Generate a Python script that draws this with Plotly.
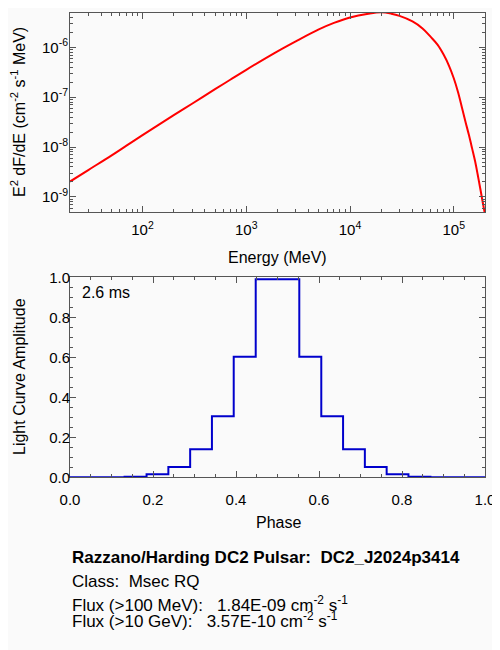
"""DC2 pulsar summary: spectrum (E^2 dF/dE) and light curve."""

import plotly.graph_objects as go

# Spectrum (MeV, cm^-2 s^-1 MeV)
energy = [20, 30, 50, 70, 100, 200, 300, 500, 700, 1000, 2000, 3000, 5000,
          7000, 1.0e4, 1.5e4, 2.0e4, 2.5e4, 3.0e4, 4.0e4, 5.0e4, 6.0e4, 7.0e4,
          8.0e4, 9.0e4, 1.0e5, 1.1e5, 1.2e5, 1.3e5, 1.4e5, 1.5e5, 1.6e5,
          1.7e5, 1.8e5, 1.9e5, 2.0e5]
e2dfde = [2.04e-9, 3.47e-9, 6.76e-9, 1.07e-8, 1.74e-8, 4.37e-8, 7.41e-8,
          1.45e-7, 2.24e-7, 3.55e-7, 8.32e-7, 1.32e-6, 2.29e-6, 3.09e-6,
          3.98e-6, 4.73e-6, 5.05e-6, 4.73e-6, 4.27e-6, 3.31e-6, 2.40e-6,
          1.62e-6, 1.12e-6, 7.08e-7, 4.27e-7, 2.40e-7, 1.26e-7, 6.17e-8,
          3.16e-8, 1.74e-8, 9.55e-9, 5.37e-9, 2.82e-9, 1.48e-9, 7.94e-10,
          4.47e-10]

# Light curve (histogram style, 20 phase points)
phase = [0.000, 0.053, 0.105, 0.158, 0.211, 0.263, 0.316, 0.368, 0.421, 0.474,
         0.526, 0.579, 0.632, 0.684, 0.737, 0.789, 0.842, 0.895, 0.947, 1.000]
amplitude = [0.0, 0.0, 0.0, 0.003, 0.015, 0.052, 0.14, 0.305, 0.603, 0.99,
             0.99, 0.603, 0.305, 0.14, 0.052, 0.015, 0.003, 0.0, 0.0, 0.0]

spec_xticks = [1e2, 1e3, 1e4, 1e5]
spec_xlabels = ["10<sup>2</sup>", "10<sup>3</sup>", "10<sup>4</sup>", "10<sup>5</sup>"]
spec_yticks = [1e-9, 1e-8, 1e-7, 1e-6]
spec_ylabels = ["10<sup>-9</sup>", "10<sup>-8</sup>", "10<sup>-7</sup>", "10<sup>-6</sup>"]

pulsar_name = "DC2_J2024p3414"
pulsar_class = "Msec RQ"
period_label = "2.6 ms"
flux_100mev = "1.84E-09"
flux_10gev = "3.57E-10"

FONT = "Liberation Sans, Arial, Helvetica, sans-serif"
AXIS_COLOR = "#555555"
BG = "#fafafa"
NB = "\u00a0"  # keeps the wide gaps of the original text

# the page body adds an 8px margin, so the figure is laid out in page pixels
W, H, PAD = 492, 642, 8


def px(x):
    return (x - PAD) / W


def py(y):
    return 1 - (y - PAD) / H


minor_x = [m * 10 ** k for k in range(1, 6) for m in range(2, 10)]
minor_y = [m * 10 ** k for k in range(-10, -5) for m in range(2, 10)]

fig = go.Figure()

fig.add_trace(go.Scatter(
    x=energy, y=e2dfde, mode="lines", line_shape="spline",
    line=dict(color="#ff0000", width=2),
    xaxis="x", yaxis="y", showlegend=False,
))

fig.add_trace(go.Scatter(
    x=phase, y=amplitude, mode="lines", line_shape="hvh",
    line=dict(color="#0000cc", width=2),
    xaxis="x2", yaxis="y2", showlegend=False,
))

common = dict(
    showline=True, linecolor=AXIS_COLOR, linewidth=1, mirror="allticks",
    ticks="inside", ticklen=6, tickcolor=AXIS_COLOR, tickwidth=1,
    showgrid=False, zeroline=False, automargin=False,
    tickfont=dict(size=15, color="black", family=FONT),
)

fig.update_layout(
    width=W, height=H,
    margin=dict(l=0, r=0, t=0, b=0),
    paper_bgcolor=BG, plot_bgcolor=BG,
    font=dict(family=FONT, color="black", size=16),
    xaxis=dict(
        **common, type="log", domain=[px(70), px(485)], anchor="y",
        range=[1.30103, 5.30103], ticklabelstandoff=4,
        tickmode="array", tickvals=spec_xticks, ticktext=spec_xlabels,
        minor=dict(tickmode="array", tickvals=minor_x, ticks="inside",
                   ticklen=3, tickcolor=AXIS_COLOR),
    ),
    yaxis=dict(
        **common, type="log", domain=[py(212), py(12.5)], anchor="x",
        range=[-9.30103, -5.30103], ticklabelstandoff=-2,
        tickmode="array", tickvals=spec_yticks, ticktext=spec_ylabels,
        minor=dict(tickmode="array", tickvals=minor_y, ticks="inside",
                   ticklen=3, tickcolor=AXIS_COLOR),
    ),
    xaxis2=dict(
        **common, domain=[px(70), px(485)], anchor="y2", range=[0, 1],
        dtick=0.2, tickformat=".1f", ticklabelstandoff=9,
        minor=dict(dtick=0.05, ticks="inside", ticklen=3, tickcolor=AXIS_COLOR),
    ),
    yaxis2=dict(
        **common, domain=[py(477.3), py(277.3)], anchor="x2", range=[0, 1],
        dtick=0.2, tickformat=".1f", ticklabelstandoff=-4,
        minor=dict(dtick=0.05, ticks="inside", ticklen=3, tickcolor=AXIS_COLOR),
    ),
)

# axis titles
titles = [
    (277, 257, 0, "Energy (MeV)"),
    (18, 112, -90, "E<sup>2</sup> dF/dE (cm<sup>-2</sup> s<sup>-1</sup> MeV)"),
    (278, 522, 0, "Phase"),
    (19, 377, -90, "Light Curve Amplitude"),
]
for tx, ty, angle, text in titles:
    fig.add_annotation(
        x=px(tx), y=py(ty), xref="paper", yref="paper", text=text,
        textangle=angle, showarrow=False, xanchor="center", yanchor="middle",
        font=dict(size=16),
    )

fig.add_annotation(
    x=px(80), y=py(292), xref="paper", yref="paper",
    text=period_label, showarrow=False, xanchor="left", yanchor="middle",
    font=dict(size=16),
)

info_lines = [
    (557, f"<b>Razzano/Harding DC2 Pulsar:{NB}{NB}{pulsar_name}</b>"),
    (581, f"Class:{NB}{NB}{pulsar_class}"),
    (604, f"Flux (>100 MeV):{NB}{NB}{NB}{flux_100mev} cm<sup>-2</sup> s<sup>-1</sup>"),
    (620, f"Flux (>10 GeV):{NB}{NB}{NB}{flux_10gev} cm<sup>-2</sup> s<sup>-1</sup>"),
]
for ty, text in info_lines:
    fig.add_annotation(
        x=px(70), y=py(ty), xref="paper", yref="paper",
        text=text, showarrow=False, xanchor="left", yanchor="middle",
        font=dict(size=17),
    )

fig.write_html("out.html")
